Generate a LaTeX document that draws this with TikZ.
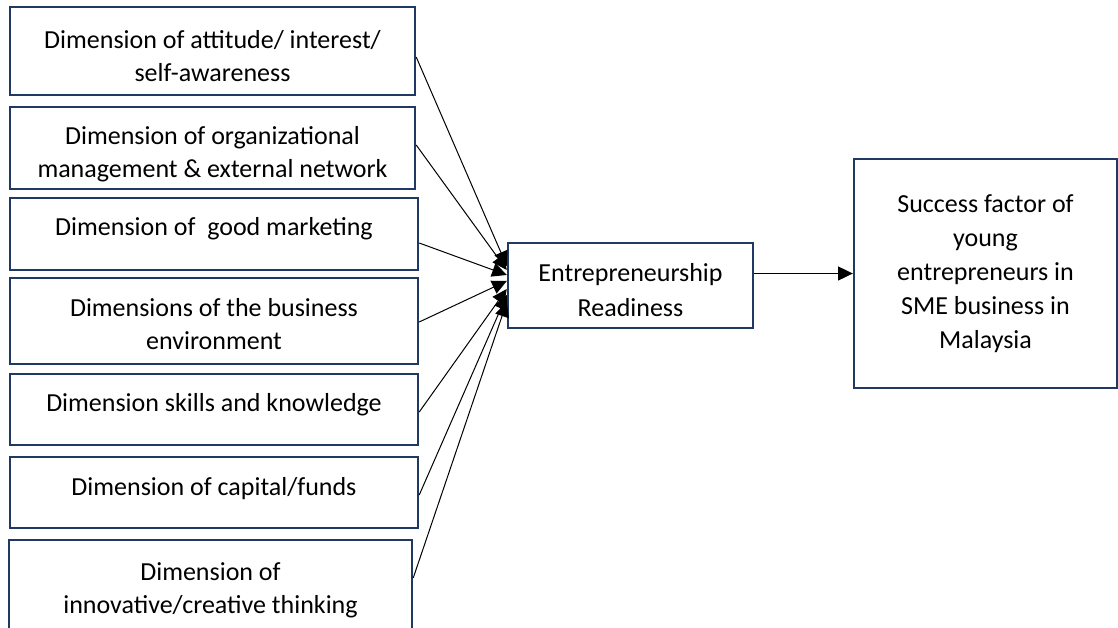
\documentclass[tikz,border=0pt]{standalone}
\usepackage{fontspec}
\setmainfont{Carlito}
\usetikzlibrary{arrows.meta}
\definecolor{boxblue}{RGB}{32,56,100}

\begin{document}
\begin{tikzpicture}
[x=0.75pt,y=-0.75pt,
  boxDecorate/.style={shape=rectangle,draw=boxblue,line width=1.8pt,inner sep=0pt},
  textDecorate/.style={anchor=north,align=center,inner sep=0pt,
    font=\fontsize{19.5}{24.75}\selectfont},
  lineDecorate/.style={-{Triangle[length=11pt,width=10.5pt]},line width=0.75pt}]
\path[use as bounding box,clip] (0,0) rectangle (1118,628);
%% dimension boxes
\foreach \nodename/\x/\y/\w/\h/\ty/\txt in {
  d1/212.5/51/405/88/-18.5/{Dimension of attitude/ interest/\\self-awareness},
  d2/212.5/148/405/82/-15.5/{Dimension of organizational\\management \& external network},
  d3/214/234/408/72/-15.5/{Dimension of~ good marketing},
  d4/214/321/408/86/-16/{Dimensions of the business\\environment},
  d5/214/409.5/408/71/-15/{Dimension skills and knowledge},
  d6/214/492.5/408/71/-16/{Dimension of capital/funds},
  d7/210.5/590/403/100/-18/{Dimension of\\innovative/creative thinking}}
{
  \node (\nodename) at (\x,\y) [boxDecorate,minimum width=\w*0.75,minimum height=\h*0.75,
    label={[textDecorate,yshift=\ty pt]north:\txt}] {};
}
%% readiness and success
\node (r) at (630.5,285.5) [boxDecorate,minimum width=183.75,minimum height=63.75,
  label={[textDecorate,yshift=-16pt,font=\fontsize{19.5}{26}\selectfont]north:Entrepreneurship\\Readiness}] {};
\node (s) at (985.5,273.5) [boxDecorate,minimum width=197.25,minimum height=171.75,
  label={[textDecorate,yshift=-27.5pt,font=\fontsize{19.5}{25.5}\selectfont]north:Success factor of\\young\\entrepreneurs in\\SME business in\\Malaysia}] {};
%% arrows
\foreach \src/\sy/\ty in {
  d1/-4.5/14.6, d2/2.25/11.6, d3/-6.75/7.9, d4/-0.75/3.4,
  d5/-1.9/-2.6, d6/-1.9/-7.1, d7/9/-12.4}
{
  \draw[lineDecorate] ([yshift=\sy pt]\src.east) -- ([yshift=\ty pt]r.west);
}
\draw[lineDecorate] (r.east |- s.west) -- (s.west);
\end{tikzpicture}
\end{document}
